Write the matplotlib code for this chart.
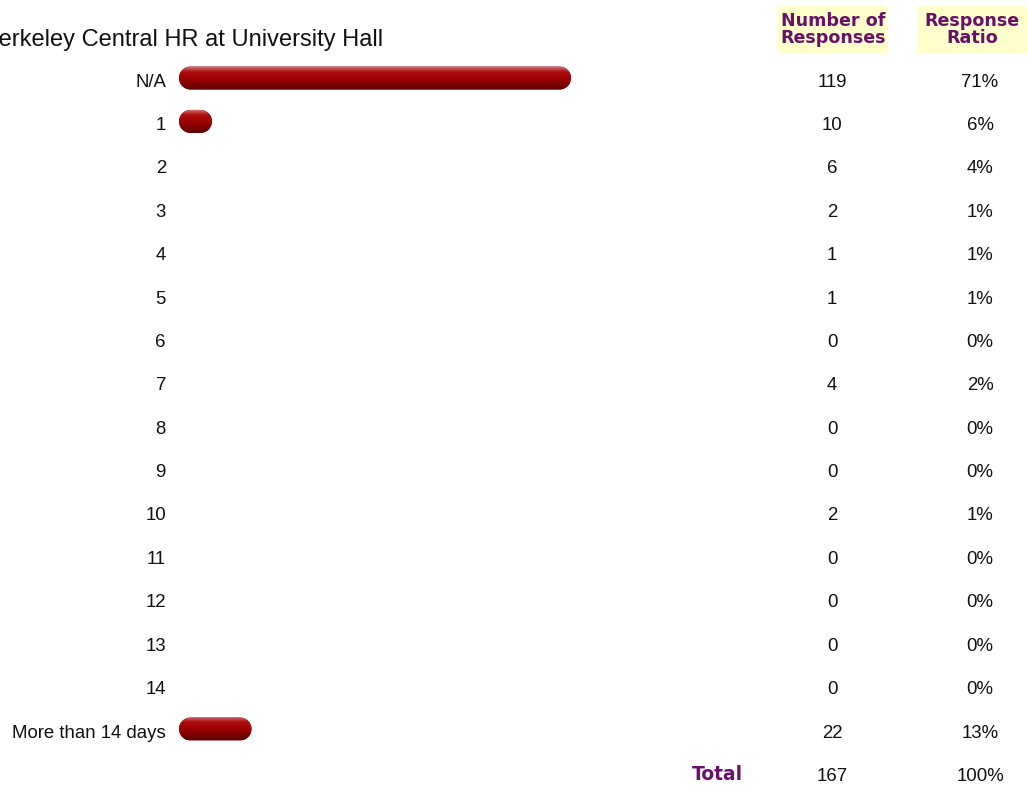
import numpy as np
import matplotlib
matplotlib.use("Agg")
import matplotlib.pyplot as plt
from matplotlib.patches import Polygon, Rectangle

# survey answers (days) and counts
labels = ["N/A", "1", "2", "3", "4", "5", "6", "7", "8", "9", "10",
          "11", "12", "13", "14", "More than 14 days"]
counts = [119, 10, 6, 2, 1, 1, 0, 4, 0, 0, 2, 0, 0, 0, 0, 22]
ratios = ["71%", "6%", "4%", "1%", "1%", "1%", "0%", "2%", "0%", "0%",
          "1%", "0%", "0%", "0%", "0%", "13%"]
total_count = 167
total_ratio = "100%"
title = "Berkeley Central HR at University Hall"

W, H = 1028, 789
fig = plt.figure(figsize=(W / 100, H / 100), dpi=100)
ax = fig.add_axes([0, 0, 1, 1])
ax.set_xlim(0, W)
ax.set_ylim(H, 0)
ax.axis("off")

body = dict(family="Liberation Sans", fontsize=13.4, color="#111111")
purple = "#6a106a"
head = dict(family="DejaVu Sans", fontsize=12.6, fontweight="bold", color=purple)

# header boxes
for x0, lines in [(778, ("Number of", "Responses")), (917, ("Response", "Ratio"))]:
    ax.add_patch(Rectangle((x0, 6), 110, 47, facecolor="#ffffcc", edgecolor="none"))
    ax.text(x0 + 55, 26, lines[0], ha="center", va="baseline", **head)
    ax.text(x0 + 55, 43, lines[1], ha="center", va="baseline", **head)

# the "B" runs off the left edge in the original
ax.text(-17, 46, title, ha="left", va="baseline",
        family="Liberation Sans", fontsize=17, color="#111111")

# vertical gradient for the bars
grad = np.linspace(0, 1, 64)
stops = [0, 0.2, 0.5, 1]
r = np.interp(grad, stops, [0.80, 0.68, 0.62, 0.36])
g = np.interp(grad, stops, [0.42, 0.06, 0.0, 0.0])
b = np.interp(grad, stops, [0.42, 0.06, 0.0, 0.0])
img = np.dstack([r, g, b]).reshape(64, 1, 3)


def stadium(x0, w, yc, h):
    rad = h / 2
    t = np.linspace(-np.pi / 2, np.pi / 2, 30)
    right = np.column_stack([x0 + w - rad + rad * np.cos(t), yc + rad * np.sin(t)])
    left = np.column_stack([x0 + rad - rad * np.cos(t), yc - rad * np.sin(t)])
    return np.vstack([right, left])


x_start = 179
scale = 392 / max(counts)
bar_h = 23
row_gap = 43.4
rows = 80 + np.arange(len(labels)) * row_gap

for lab, c, rt, y in zip(labels, counts, ratios, rows):
    base = y + 6.5
    ax.text(166, base, lab, ha="right", va="baseline", **body)
    ax.text(832, base, str(c), ha="center", va="baseline", **body)
    ax.text(980, base, rt, ha="center", va="baseline", **body)
    if c >= 10:
        w = c * scale
        yc = y - 2
        patch = Polygon(stadium(x_start, w, yc, bar_h), closed=True,
                        facecolor="#990000", edgecolor="none")
        ax.add_patch(patch)
        im = ax.imshow(img, extent=(x_start, x_start + w, yc + bar_h / 2, yc - bar_h / 2),
                       aspect="auto", interpolation="bilinear", zorder=2)
        im.set_clip_path(patch)

ty = rows[-1] + row_gap
ax.text(717, ty + 5.5, "Total", ha="center", va="baseline",
        family="DejaVu Sans", fontsize=13.5, fontweight="bold", color=purple)
ax.text(832, ty + 6.5, str(total_count), ha="center", va="baseline", **body)
ax.text(980, ty + 6.5, total_ratio, ha="center", va="baseline", **body)

ax.set_xlim(0, W)
ax.set_ylim(H, 0)
fig.savefig("out.png", dpi=100)
